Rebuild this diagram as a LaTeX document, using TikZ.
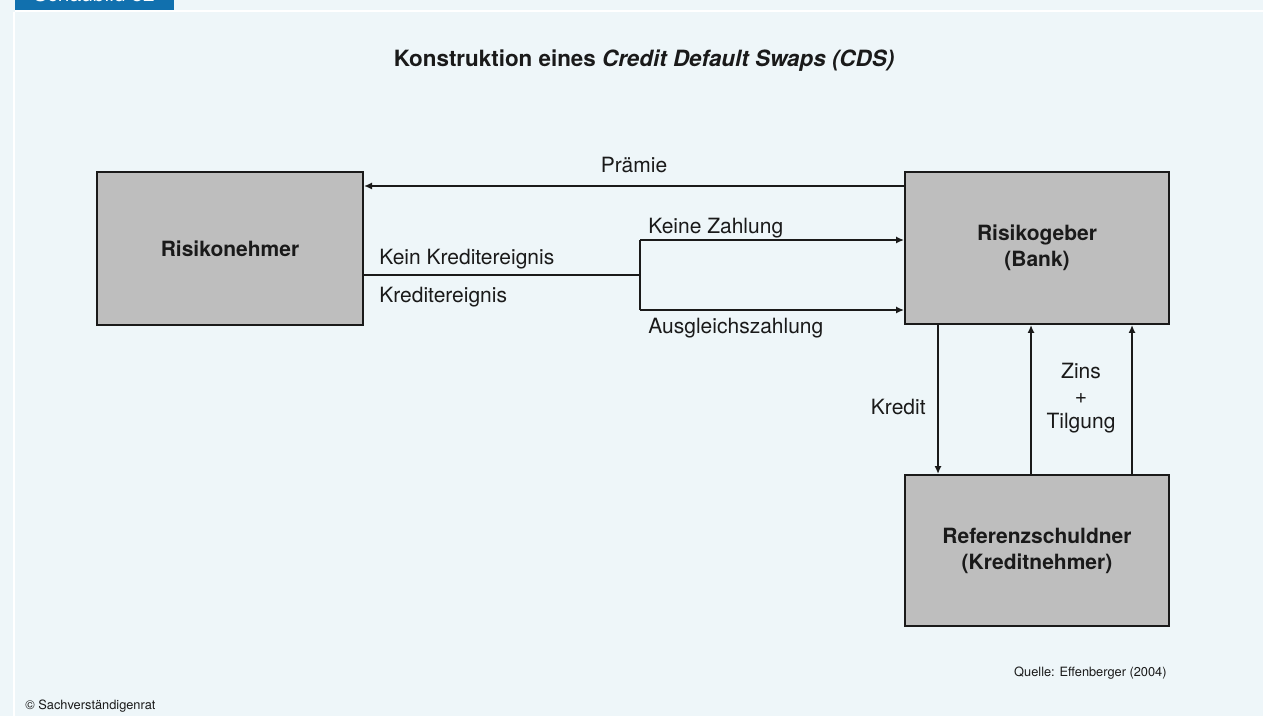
\documentclass[tikz,border=0pt]{standalone}
\usepackage{fontspec}
\setmainfont{TeX Gyre Heros}
\usetikzlibrary{arrows.meta}
\definecolor{bg}{RGB}{238,246,249}
\definecolor{tabblue}{RGB}{17,112,174}
\definecolor{boxgray}{RGB}{190,190,190}
\definecolor{ink}{RGB}{26,26,26}
\begin{document}
\begin{tikzpicture}[x=0.5pt,y=-0.5pt,
  box/.style={draw=ink,line width=1pt,fill=boxgray,rectangle,inner sep=0pt,
    align=center,font=\fontsize{10.5}{13}\selectfont\bfseries,text=ink},
  lbl/.style={inner sep=0pt,font=\fontsize{10.5}{13}\selectfont,text=ink},
  small/.style={inner sep=0pt,font=\fontsize{6.4}{8}\selectfont,text=ink},
  conn/.style={draw=ink,line width=1pt},
  arr/.style={conn,-{Latex[length=4pt,width=3.6pt]}}]
\useasboundingbox (0,0) rectangle (1263,716);
\fill[bg] (0,0) rectangle (1263,716);
\fill[white] (15,10.5) rectangle (1263,12.5);
\fill[white] (13,12.5) rectangle (15,716);
\fill[tabblue] (15,0) rectangle (174,10.5);
\begin{scope}
\clip (15,0) rectangle (174,10.5);
\node[anchor=base west,inner sep=0pt,text=white,font=\fontsize{10.5}{13}\selectfont] (tab) at (33,2) {Schaubild 82};
\end{scope}
\node[inner sep=0pt,text=ink,font=\fontsize{11.2}{13}\selectfont\bfseries] (title) at (644,61) {Konstruktion eines \textit{Credit Default Swaps (CDS)}};
\node[box,minimum width=133pt,minimum height=76.5pt] (nehmer) at (230,248.5) {Risikonehmer};
\node[box,minimum width=132pt,minimum height=76pt] (geber) at (1037,248) {Risikogeber\\(Bank)};
\node[box,minimum width=132pt,minimum height=75.5pt] (schuldner) at (1037,550.5) {Referenzschuldner\\(Kreditnehmer)};
% Praemie
\coordinate (pr) at (0,186);
\draw[arr] (geber.west |- pr) -- (nehmer.east |- pr) node[lbl,midway,above=6pt] (praemie) {Prämie};
% split
\coordinate (s) at (640,275);
\coordinate (s1) at (640,240);
\coordinate (s2) at (640,310);
\draw[conn] (nehmer.east |- s) -- (s);
\draw[conn] (s1) -- (s2);
\draw[arr] (s1) -- (s1 -| geber.west);
\draw[arr] (s2) -- (s2 -| geber.west);
\node[lbl,anchor=base west] (kz) at (648,234) {Keine Zahlung};
\node[lbl,anchor=base west] (az) at (648,334) {Ausgleichszahlung};
\node[lbl,anchor=base west] (kke) at (379,265) {Kein Kreditereignis};
\node[lbl,anchor=base west] (ke) at (379,303) {Kreditereignis};
% Kredit and Zins
\coordinate (xk) at (938,0);
\coordinate (xz1) at (1031,0);
\coordinate (xz2) at (1132,0);
\draw[arr] (geber.south -| xk) -- (schuldner.north -| xk);
\draw[arr] (schuldner.north -| xz1) -- (geber.south -| xz1);
\draw[arr] (schuldner.north -| xz2) -- (geber.south -| xz2);
\node[lbl,anchor=east] (kredit) at (926,407) {Kredit};
\node[lbl,align=center] (zins) at (1081,398) {Zins\\[-0.5pt]+\\[-0.5pt]Tilgung};
\node[small,anchor=base east] (quelle) at (1167,676) {Quelle: Effenberger (2004)};
\node[small,anchor=base west] (copy) at (25,709) {© Sachverständigenrat};
\end{tikzpicture}
\end{document}
